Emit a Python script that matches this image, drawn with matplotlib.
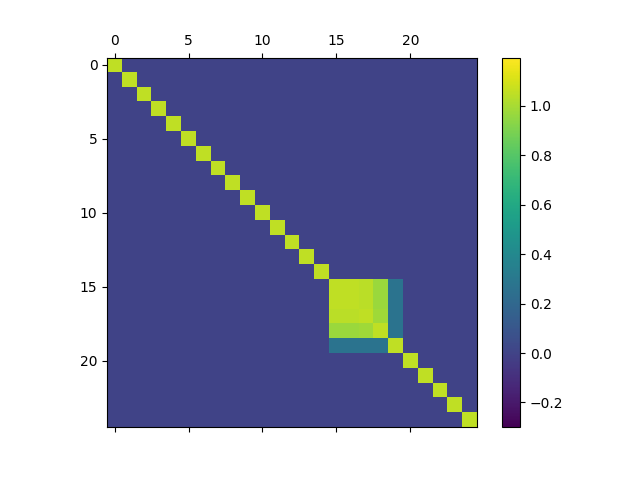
import numpy as np
import matplotlib.pyplot as plt

n = 25
diag_value = 1.05
background = 0.0

# block of correlated entries (rows/cols 15..19)
block_idx = [15, 16, 17, 18, 19]
block = [
    [1.05, 1.05, 1.04, 0.97, 0.27],
    [1.05, 1.05, 1.04, 0.97, 0.27],
    [1.04, 1.04, 1.05, 0.98, 0.27],
    [0.97, 0.97, 0.98, 1.05, 0.27],
    [0.27, 0.27, 0.27, 0.27, 1.05],
]

m = np.full((n, n), background)
np.fill_diagonal(m, diag_value)
m[np.ix_(block_idx, block_idx)] = block

fig, ax = plt.subplots()
im = ax.matshow(m, vmin=-0.3, vmax=1.195)
fig.colorbar(im)

plt.savefig("out.png")
